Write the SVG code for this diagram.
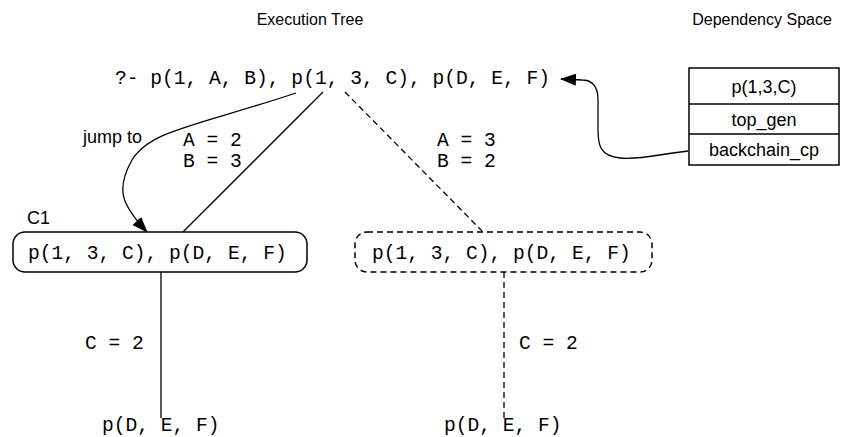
<svg xmlns="http://www.w3.org/2000/svg" width="849" height="437" viewBox="0 0 849 437">
<style>
.mono{font-family:"Liberation Mono","DejaVu Sans Mono",monospace;font-size:19.6px;fill:#000}
.sans{font-family:"Liberation Sans",Arial,sans-serif;font-size:18px;fill:#000}
.title{font-family:"Liberation Sans",Arial,sans-serif;font-size:16px;fill:#000}
.ln{stroke:#000;stroke-width:1.3;fill:none}
.dash{stroke-dasharray:6,4}
.box{fill:#fff;stroke:#000;stroke-width:1.5}
</style>
<defs>
<marker id="ah" markerWidth="16" markerHeight="12" refX="15" refY="6" orient="auto" markerUnits="userSpaceOnUse">
<path d="M0,0 L16,6 L0,12 Z" fill="#000"/>
</marker>
</defs>
<rect width="849" height="437" fill="#fff"/>
<text class="title" x="310" y="25" text-anchor="middle">Execution Tree</text>
<text class="title" x="762" y="25" text-anchor="middle">Dependency Space</text>

<g id="connectors">
<path class="ln" d="M323,92 L183,232"/>
<path class="ln dash" d="M345,92 L483,232"/>
<path class="ln" d="M296,93 C200,125 150,130 132,160 C115,190 122,205 147,232" marker-end="url(#ah)"/>
<path class="ln" d="M688,151 C660,154 640,160 620,158 C600,156 598,145 598,130 L598,100 C598,86 592,80 582,80 L561,79" marker-end="url(#ah)"/>
<path class="ln" d="M161,272 L161,418"/>
<path class="ln dash" d="M504,272 L504,418"/>
</g>

<g id="root"><text class="mono" x="115" y="84" xml:space="preserve">?- p(1, A, B), p(1, 3, C), p(D, E, F)</text></g>

<g id="labels">
<text class="sans" x="83" y="143">jump to</text>
<text class="mono" x="183" y="146">A = 2</text>
<text class="mono" x="183" y="167">B = 3</text>
<text class="mono" x="437" y="146">A = 3</text>
<text class="mono" x="437" y="167">B = 2</text>
<text class="mono" x="85" y="349">C = 2</text>
<text class="mono" x="519" y="349">C = 2</text>
</g>

<g id="c1">
<rect class="box" x="13" y="232" width="294" height="40" rx="12"/>
<text class="sans" x="27" y="224">C1</text>
<text class="mono" x="28" y="259">p(1, 3, C), p(D, E, F)</text>
</g>

<g id="alt">
<rect class="box dash" x="355" y="232" width="297" height="40" rx="12"/>
<text class="mono" x="372" y="259">p(1, 3, C), p(D, E, F)</text>
</g>

<g id="leaf1"><text class="mono" x="102" y="431">p(D, E, F)</text></g>
<g id="leaf2"><text class="mono" x="444" y="431">p(D, E, F)</text></g>

<g id="dep">
<rect class="box" x="689" y="68" width="150" height="97"/>
<line class="ln" x1="689" y1="104" x2="839" y2="104" stroke-width="1.5"/>
<line class="ln" x1="689" y1="134" x2="839" y2="134" stroke-width="1.5"/>
<text class="sans" x="764" y="93" text-anchor="middle">p(1,3,C)</text>
<text class="sans" x="764" y="126" text-anchor="middle">top_gen</text>
<text class="sans" x="764" y="156" text-anchor="middle">backchain_cp</text>
</g>
</svg>
